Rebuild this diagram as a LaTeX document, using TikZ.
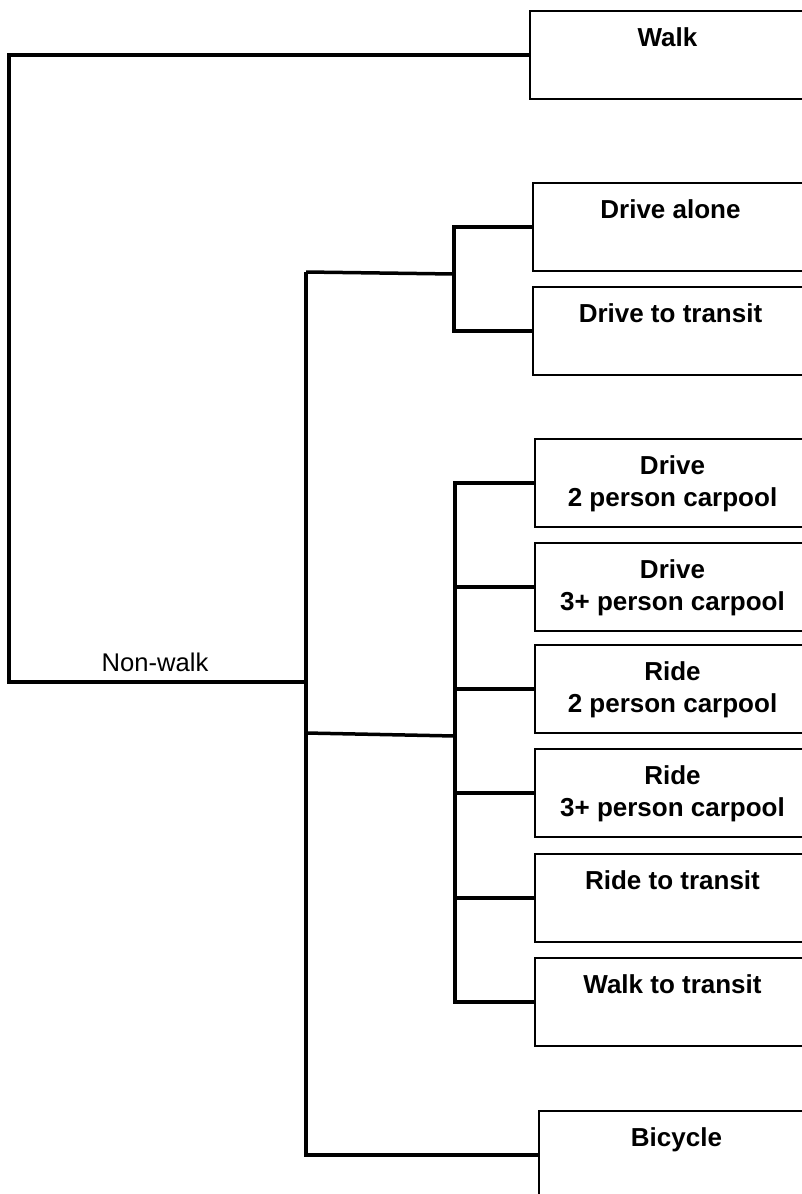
\documentclass[tikz,border=0pt]{standalone}
\usepackage{fontspec}
\setmainfont{Liberation Sans}
\begin{document}
\begin{tikzpicture}[x=1pt,y=-1pt,
  modebox/.style={draw, line width=2pt, minimum width=275pt, minimum height=88pt, anchor=north west, inner sep=0pt},
  lbl/.style={font=\fontsize{26}{32}\selectfont\bfseries, align=center, anchor=north, inner sep=0pt},
  conn/.style={line width=3.5pt, line join=miter}]
\useasboundingbox (0,0) rectangle (802,1194);
\clip (0,0) rectangle (802,1194);
% boxes
\node[modebox] (walk) at (529,10) {};
\node[modebox] (dalone) at (532,182) {};
\node[modebox] (dtr) at (532,286) {};
\node[modebox] (dtwo) at (534,438) {};
\node[modebox] (dthree) at (534,542) {};
\node[modebox] (rtwo) at (534,644) {};
\node[modebox] (rthree) at (534,748) {};
\node[modebox] (rtr) at (534,853) {};
\node[modebox] (wtr) at (534,957) {};
\node[modebox] (bike) at (538,1110) {};
% labels
\node[lbl] (lwalk) at ([yshift=-17.5pt]walk.north) {Walk};
\node[lbl] (ldalone) at ([yshift=-17.5pt]dalone.north) {Drive alone};
\node[lbl] (ldtr) at ([yshift=-17.5pt]dtr.north) {Drive to transit};
\node[lbl] (ldtwo) at ([yshift=-17.5pt]dtwo.north) {Drive\\2 person carpool};
\node[lbl] (ldthree) at ([yshift=-17.5pt]dthree.north) {Drive\\3+ person carpool};
\node[lbl] (lrtwo) at ([yshift=-17.5pt]rtwo.north) {Ride\\2 person carpool};
\node[lbl] (lrthree) at ([yshift=-17.5pt]rthree.north) {Ride\\3+ person carpool};
\node[lbl] (lrtr) at ([yshift=-17.5pt]rtr.north) {Ride to transit};
\node[lbl] (lwtr) at ([yshift=-17.5pt]wtr.north) {Walk to transit};
\node[lbl] (lbike) at ([yshift=-17.5pt]bike.north) {Bicycle};
% junction coordinates
\coordinate (root) at (9,682);
\coordinate (nw) at (306,682);
\coordinate (mtop) at (306,272);
\coordinate (da) at (454,274);
\coordinate (mj) at (306,733);
\coordinate (sh) at (455,736);
% connectors
\draw[conn] (walk.west) -| (root) -- (nw);
\node[font=\fontsize{25.6}{30}\selectfont, anchor=base, inner sep=0pt] (lnw) at (155,671.7) {Non-walk};
\draw[conn] (mtop) -- (mtop |- bike.west) -- (bike.west);
\draw[conn] (mtop) -- (da);
\draw[conn] (dalone.west) -| (da) |- (dtr.west);
\draw[conn] (mj) -- (sh);
\draw[conn] (dtwo.west) -| (sh) |- (wtr.west);
\draw[conn] (dthree.west) -- (dthree.west -| sh);
\draw[conn] (rtwo.west) -- (rtwo.west -| sh);
\draw[conn] (rthree.west) -- (rthree.west -| sh);
\draw[conn] (rtr.west) -- (rtr.west -| sh);
\end{tikzpicture}
\end{document}
